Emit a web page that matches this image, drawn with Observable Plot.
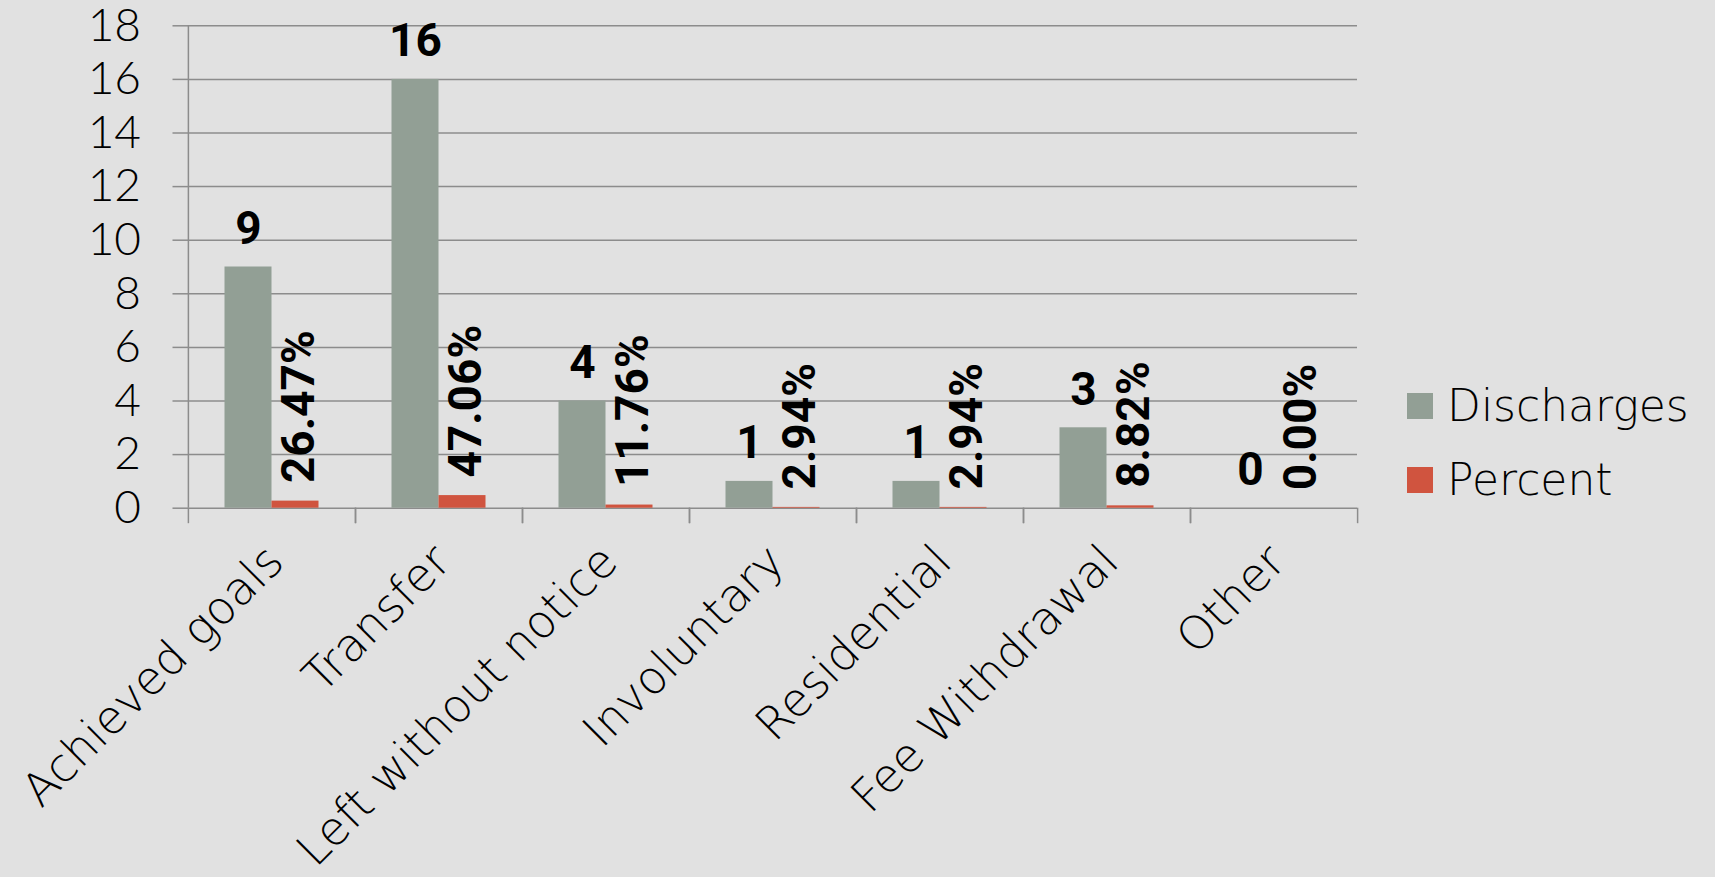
<!DOCTYPE html>
<html>
<head>
<meta charset="utf-8">
<script src="https://cdn.jsdelivr.net/npm/d3@7"></script>
<script src="https://cdn.jsdelivr.net/npm/@observablehq/plot@0.6"></script>
<style>
  html, body { margin: 0; padding: 0; background: #e1e1e1; }
  #wrap { position: relative; width: 1715px; height: 877px; overflow: hidden; }
  #legend { position: absolute; left: 1407px; top: 393px; font-family: "DejaVu Sans", sans-serif; font-weight: 200; font-size: 44px; color: #000; }
  .row { display: flex; align-items: center; height: 26px; margin-bottom: 48px; }
  .sw { width: 26px; height: 26px; margin-right: 14px; flex: none; }
  .lab { line-height: 26px; white-space: nowrap; }
</style>
</head>
<body>
<div id="wrap"><div id="legend"></div></div>
<script>
const categories = ["Achieved goals", "Transfer", "Left without notice", "Involuntary", "Residential", "Fee Withdrawal", "Other"];
const discharges = [9, 16, 4, 1, 1, 3, 0];
const percent = [0.2647, 0.4706, 0.1176, 0.0294, 0.0294, 0.0882, 0];
const series = ["Discharges", "Percent"];
const seriesColors = ["#929f95", "#d0543f"];
const yTicks = [0, 2, 4, 6, 8, 10, 12, 14, 16, 18];

const W = 1715, H = 877;
const mL = 187.5, mR = 357, mT = 25.3, mB = 369.3;
const step = (W - mL - mR) / categories.length;
const gridColor = "#8c8c8c";
const fmtPct = d3.format(".2%");

const rows = categories.flatMap((c, i) => [
  {category: c, series: series[0], value: discharges[i]},
  {category: c, series: series[1], value: percent[i]}
]);
const dRows = rows.filter(r => r.series === series[0]);
const pRows = rows.filter(r => r.series === series[1]);

const chart = Plot.plot({
  width: W, height: H,
  marginLeft: mL, marginRight: mR, marginTop: mT, marginBottom: mB,
  style: {background: "transparent", overflow: "visible"},
  fx: {domain: categories, padding: 0, label: null},
  x: {domain: series, paddingInner: 0, paddingOuter: 0.754, axis: null},
  y: {domain: [0, 18]},
  color: {domain: series, range: seriesColors},
  marks: [
    Plot.gridY(yTicks, {stroke: gridColor, strokeOpacity: 1, strokeWidth: 1.5}),
    Plot.ruleX([categories[0]], {fx: d => d, x: null, dx: -step / 2, stroke: gridColor, strokeWidth: 1.5}),
    Plot.axisFx({anchor: "bottom", tickSize: 15.5, dx: -step / 2, tickFormat: () => "", label: null, stroke: gridColor, strokeWidth: 1.5}),
    Plot.axisFx([categories[categories.length - 1]], {anchor: "bottom", tickSize: 15.5, dx: step / 2, tickFormat: () => "", label: null, stroke: gridColor, strokeWidth: 1.5}),
    Plot.axisY({ticks: yTicks, tickSize: 15.5, tickPadding: 32, stroke: gridColor, strokeWidth: 1.5, fill: "#000",
      fontSize: 46, fontFamily: "Lato, sans-serif", fontWeight: 300, label: null}),
    Plot.barY(rows, {fx: "category", x: "series", y: "value", fill: "series", inset: 0}),
    Plot.text(dRows, {fx: "category", x: "series", y: "value", text: d => String(d.value),
      dy: -23, lineAnchor: "bottom", fontSize: 46, fontWeight: 700, fontFamily: "Roboto, sans-serif", fill: "#000"}),
    Plot.text(pRows, {fx: "category", x: "series", y: "value", text: d => fmtPct(d.value),
      rotate: -90, textAnchor: "start", dy: -18, dx: 4, fontSize: 46, fontWeight: 700, fontFamily: "Roboto, sans-serif", fill: "#000"}),
    Plot.text(categories, {fx: d => d, text: d => d, frameAnchor: "bottom", rotate: -45, textAnchor: "end", lineAnchor: "bottom",
      dx: 14, dy: 56, fontSize: 46, fontWeight: 200, fontFamily: "DejaVu Sans, sans-serif", fill: "#000"})
  ]
});
document.getElementById("wrap").prepend(chart);

const legend = document.getElementById("legend");
series.forEach((s, i) => {
  const row = document.createElement("div");
  row.className = "row";
  const sw = document.createElement("div");
  sw.className = "sw";
  sw.style.background = seriesColors[i];
  const lab = document.createElement("span");
  lab.className = "lab";
  lab.textContent = s;
  row.append(sw, lab);
  legend.append(row);
});
</script>
</body>
</html>
